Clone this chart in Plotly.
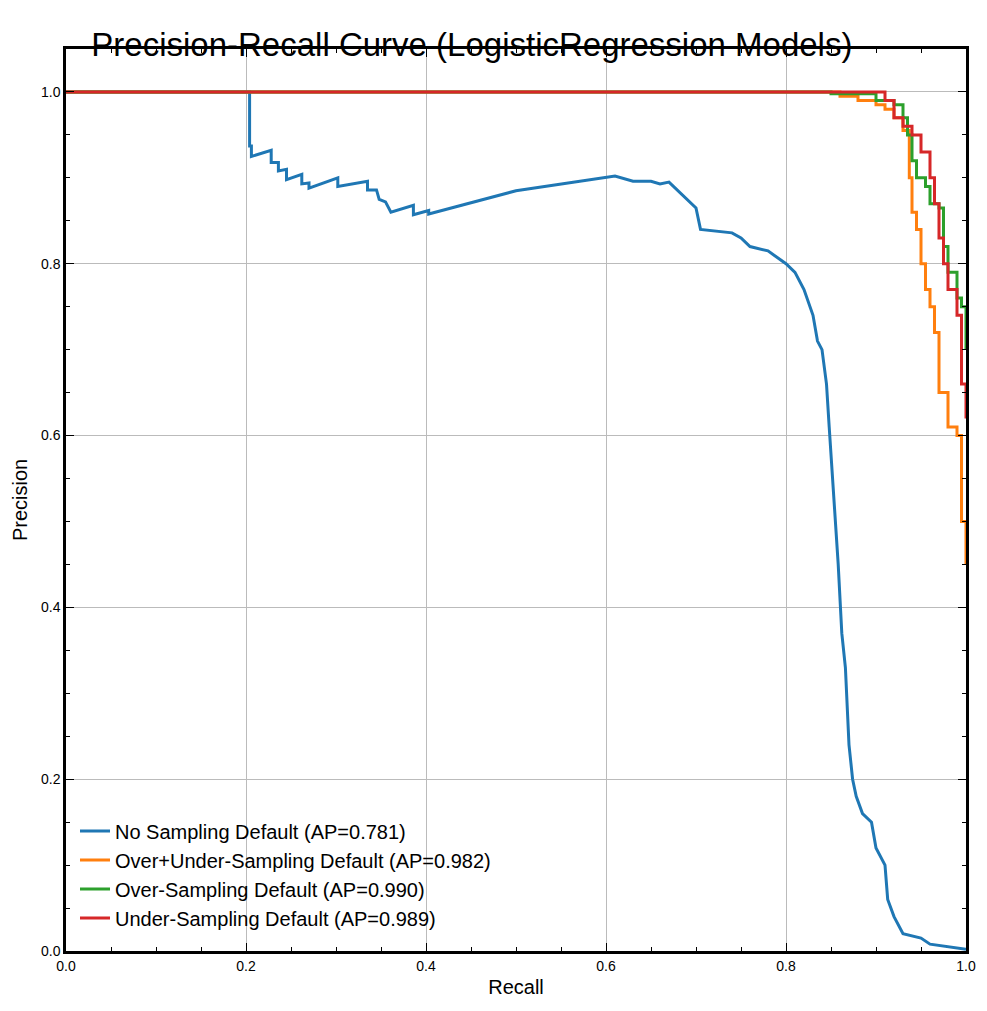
import plotly.graph_objects as go

names = ["No Sampling Default (AP=0.781)", "Over+Under-Sampling Default (AP=0.982)",
         "Over-Sampling Default (AP=0.990)", "Under-Sampling Default (AP=0.989)"]
colors = ["#1f77b4", "#ff7f0e", "#2ca02c", "#d62728"]

none_recall = [0, 0.204, 0.204, 0.206, 0.206, 0.228, 0.228, 0.236, 0.236, 0.245, 0.245, 0.262, 0.262,
               0.27, 0.27, 0.302, 0.302, 0.335, 0.335, 0.345, 0.348, 0.355, 0.361, 0.386, 0.386, 0.403,
               0.403, 0.5, 0.61, 0.63, 0.65, 0.66, 0.67, 0.68, 0.69, 0.70, 0.705, 0.72, 0.74, 0.75, 0.76,
               0.78, 0.79, 0.80, 0.81, 0.82, 0.83, 0.835, 0.84, 0.845, 0.848, 0.852, 0.855, 0.858, 0.862,
               0.866, 0.87, 0.874, 0.878, 0.885, 0.895, 0.9, 0.91, 0.913, 0.92, 0.93, 0.95, 0.96, 1.0]
none_prec = [1, 1, 0.937, 0.937, 0.925, 0.932, 0.918, 0.918, 0.908, 0.91, 0.898, 0.904, 0.893,
             0.894, 0.888, 0.900, 0.890, 0.896, 0.886, 0.886, 0.875, 0.872, 0.860, 0.868, 0.857, 0.862,
             0.858, 0.885, 0.902, 0.896, 0.896, 0.893, 0.895, 0.885, 0.875, 0.865, 0.84, 0.838, 0.836, 0.83, 0.82,
             0.815, 0.808, 0.80, 0.79, 0.77, 0.74, 0.71, 0.70, 0.66, 0.61, 0.55, 0.50, 0.45, 0.37,
             0.33, 0.24, 0.20, 0.18, 0.16, 0.15, 0.12, 0.10, 0.06, 0.04, 0.02, 0.015, 0.008, 0.002]

ou_recall = [0, 0.86, 0.88, 0.9, 0.91, 0.92, 0.93, 0.937, 0.94, 0.945, 0.95, 0.955, 0.96, 0.965,
             0.97, 0.98, 0.99, 0.995, 1.0]
ou_prec = [1, 0.995, 0.99, 0.985, 0.98, 0.97, 0.955, 0.90, 0.86, 0.84, 0.8, 0.77, 0.75, 0.72,
           0.65, 0.61, 0.6, 0.5, 0.45]

over_recall = [0, 0.73, 0.85, 0.9, 0.92, 0.93, 0.935, 0.94, 0.945, 0.955, 0.96, 0.97, 0.975, 0.98, 0.99, 0.995, 1.0]
over_prec = [1, 1, 0.998, 0.99, 0.985, 0.97, 0.95, 0.92, 0.9, 0.89, 0.87, 0.865, 0.82, 0.79, 0.76, 0.75, 0.7]

under_recall = [0, 0.85, 0.905, 0.91, 0.92, 0.93, 0.94, 0.95, 0.96, 0.965, 0.97, 0.975, 0.98, 0.99, 0.995, 1.0]
under_prec = [1, 1, 1, 0.99, 0.97, 0.96, 0.95, 0.93, 0.9, 0.87, 0.83, 0.80, 0.77, 0.74, 0.66, 0.62]

series = [(none_recall, none_prec), (ou_recall, ou_prec), (over_recall, over_prec), (under_recall, under_prec)]
shapes = ["linear", "hv", "hv", "hv"]

fig = go.Figure()
for (r, p), name, c, s in zip(series, names, colors, shapes):
    fig.add_trace(go.Scatter(x=r, y=p, mode="lines", name=name, line=dict(color=c, width=3, shape=s)))

axis = dict(showline=True, linecolor="black", linewidth=2.5, mirror="ticks", ticks="inside",
            ticklen=8, tickwidth=1.2, tickcolor="black", showgrid=True, gridcolor="#bbbbbb",
            zeroline=False, tickformat=".1f", dtick=0.2,
            minor=dict(ticks="inside", ticklen=4, tickcolor="black", dtick=0.05, showgrid=False),
            tickfont=dict(size=14, color="black"))

fig.update_layout(
    width=987, height=1011,
    margin=dict(l=58, r=29, t=41, b=68),
    plot_bgcolor="white", paper_bgcolor="white",
    font=dict(family="Liberation Sans, Arial", color="black"),
    title=dict(text="Precision-Recall Curve (LogisticRegression Models)", x=0.47, xanchor="center",
               yref="container", y=0.975, yanchor="top", font=dict(size=33)),
    xaxis=dict(axis, range=[0, 1], title=dict(text="Recall", font=dict(size=20), standoff=8)),
    yaxis=dict(axis, range=[0, 1.05], title=dict(text="Precision", font=dict(size=20), standoff=8)),
    legend=dict(x=0.01, y=0.015, xanchor="left", yanchor="bottom", bgcolor="rgba(255,255,255,0)",
                font=dict(size=20)),
)

fig.write_html("out.html")
